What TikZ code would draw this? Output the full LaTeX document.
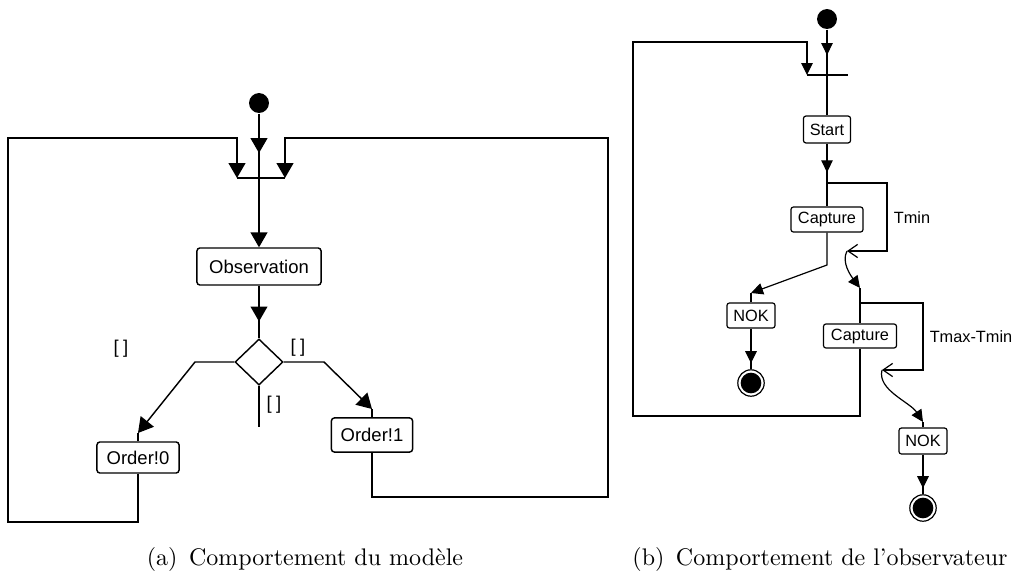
\documentclass[tikz,border=0pt]{standalone}
\usepackage{fontspec}
\newfontfamily\lab{Liberation Sans}
\usetikzlibrary{arrows.meta,shapes.geometric,decorations.markings}
\begin{document}
\begin{tikzpicture}[x=0.4167pt,y=-0.4167pt,
  initn/.style={circle, fill, inner sep=0pt, minimum size=8.3pt},
  fin/.style={circle, draw, line width=0.5pt, minimum size=11pt, inner sep=0pt,
    path picture={\fill (path picture bounding box.center) circle (4.3pt);}},
  lbox/.style={draw, rounded corners=1.2pt, inner sep=0pt, font=\lab\fontsize{7.7}{9}\selectfont},
  sbox/.style={draw, rounded corners=1pt, inner sep=0pt, font=\lab\fontsize{6.8}{8}\selectfont},
  lbl/.style={inner sep=0pt, font=\lab\fontsize{7.7}{9}\selectfont},
  slbl/.style={inner sep=0pt, font=\lab\fontsize{6.8}{8}\selectfont},
  captxt/.style={inner sep=0pt, font=\fontsize{10}{12}\selectfont},
  ela/.style={-{Triangle[length=6.2pt,width=7pt]}},
  sla/.style={-{Triangle[length=5pt,width=4.8pt]}},
  opa/.style={-{Straight Barb[length=4pt,width=5.5pt]}},
  marl/.style={postaction={decorate}, decoration={markings,
    mark=at position #1 with {\arrow{Triangle[length=6.2pt,width=7pt]}}}},
  mars/.style={postaction={decorate}, decoration={markings,
    mark=at position #1 with {\arrow{Triangle[length=5pt,width=4.8pt]}}}}]
\useasboundingbox (0,0) rectangle (1016,573);

% ---------------- left diagram ----------------
\begin{scope}[line width=0.6pt]
\node[initn] (i1) at (259,103) {};
\coordinate (b1) at (259,178);
\coordinate (b1L) at (237,178);
\coordinate (b1R) at (285,178);
\draw (b1L) -- (b1R);
\node[lbox, minimum width=51.7pt, minimum height=15.4pt] (obs) at (259,266.5) {Observation};
\node[diamond, draw, inner sep=0pt, minimum width=20pt, minimum height=19.2pt] (d) at (259,362) {};
\node[lbox, minimum width=34.2pt, minimum height=12.9pt] (o0) at (138,457.5) {Order!0};
\node[lbox, minimum width=33.8pt, minimum height=14.2pt] (o1) at (372,435) {Order!1};

\draw[marl=-10.4pt] (i1) -- (b1);
\draw[ela] (b1) -- (obs);
\draw[marl=-7pt] (obs) -- (d);

\draw[ela] (o0.south) -- (138,522) -- (8,522) -- (8,138) -- (237,138) -- (b1L);
\draw[ela] (o1.south) -- (372,497) -- (608,497) -- (608,138) -- (285,138) -- (b1R);

\coordinate (k0) at (138,433);
\draw[ela] (d.west) -- (195,362) -- (k0);
\draw (k0) -- (o0.north);
\coordinate (k1) at (372,409);
\draw[ela] (d.east) -- (324,362) -- (k1);
\draw (k1) -- (o1.north);
\coordinate (e1) at (259,427);
\draw (d.south) -- (e1);

\node[lbl] (l1) at (121,349) {[\hspace{1.8pt}]};
\node[lbl] (l2) at (298,348) {[\hspace{1.8pt}]};
\node[lbl] (l3) at (274,405) {[\hspace{1.8pt}]};
\end{scope}

% ---------------- right diagram ----------------
\begin{scope}[line width=0.5pt]
\node[initn] (i2) at (827,19) {};
\coordinate (b2) at (827,75);
\coordinate (b2L) at (807,75);
\coordinate (b2R) at (848,75);
\draw (b2L) -- (b2R);
\node[sbox, minimum width=19.6pt, minimum height=11.2pt] (st) at (827,129.5) {Start};
\node[sbox, minimum width=30pt, minimum height=10.4pt] (c1) at (827,219.5) {Capture};
\node[sbox, minimum width=20pt, minimum height=10.4pt] (n1) at (751,315.5) {NOK};
\node[fin] (f1) at (751,383) {};
\node[sbox, minimum width=30.4pt, minimum height=10pt] (c2) at (860,336) {Capture};
\node[sbox, minimum width=20pt, minimum height=10.8pt] (n2) at (923,441) {NOK};
\node[fin] (f2) at (923,508) {};

\draw[mars=-8.3pt] (i2) -- (b2);
\draw (b2) -- (st);
\draw[mars=-14.2pt] (st) -- (c1);

\coordinate (fk1) at (827,183);
\coordinate (w1) at (847,251);
\draw[opa] (fk1) -- (887,183) -- (887,251) -- (w1);
\coordinate (k2) at (860,288);
\draw[sla] (w1) .. controls (841,262) and (851,276) .. (k2);
\draw (k2) -- (c2);

\coordinate (fk2) at (860,303);
\coordinate (w2) at (882,370);
\draw[opa] (fk2) -- (923,303) -- (923,370) -- (w2);
\coordinate (k3) at (923,422);
\draw[sla] (w2) .. controls (877,390) and (910,402) .. (k3);
\draw (k3) -- (n2);

\coordinate (k5) at (751,293);
\draw[sla] (c1.south) -- (827,265) -- (k5);
\draw (k5) -- (n1);
\draw[mars=-2.5pt] (n1) -- (f1);
\draw[mars=-2.5pt] (n2) -- (f2);

\draw[sla] (c2.south) -- (860,416) -- (633,416) -- (633,42) -- (807,42) -- (b2L);

\node[slbl] (tmin) at (912,218) {Tmin};
\node[slbl] (tmx) at (971,337) {Tmax-Tmin};
\end{scope}

% ---------------- captions ----------------
\node[captxt, anchor=base] (ca) at (305,565) {(a)\hspace{4.8pt}Comportement du modèle};
\node[captxt, anchor=base] (cb) at (820,565) {(b)\hspace{4.8pt}Comportement de l'observateur};
\end{tikzpicture}
\end{document}
